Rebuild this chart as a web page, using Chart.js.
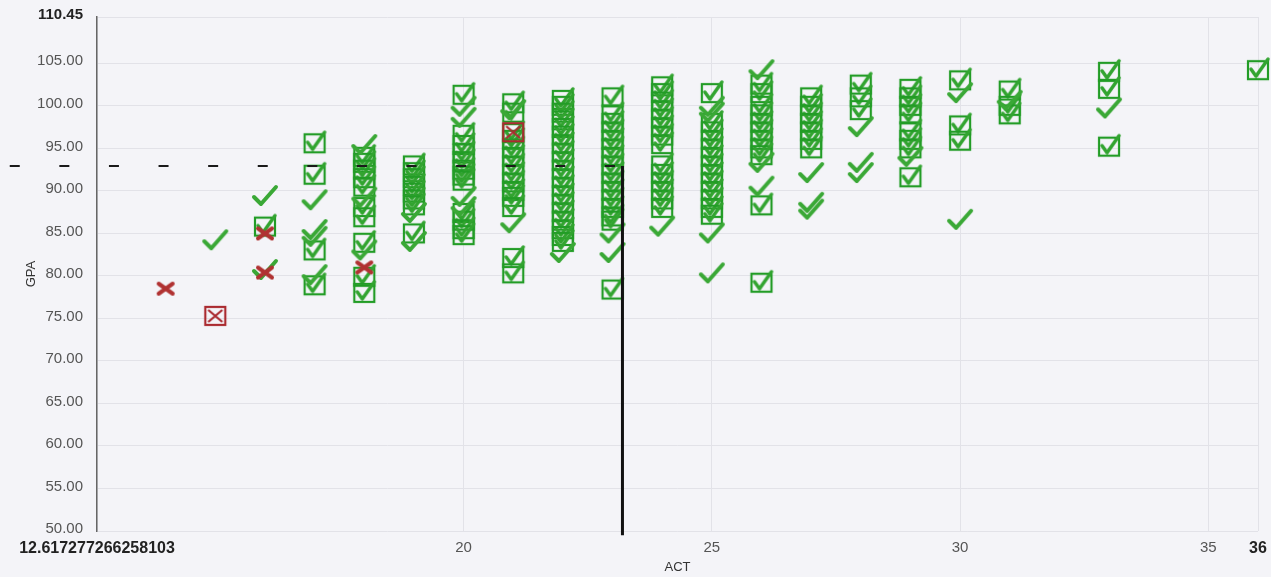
<!DOCTYPE html>
<html>
<head>
<meta charset="utf-8">
<script src="https://cdn.jsdelivr.net/npm/chart.js@4.4.0/dist/chart.umd.min.js"></script>
<style>
  html, body { margin: 0; padding: 0; background: #f4f4f8; }
  #wrap { width: 1271px; height: 577px; }
</style>
</head>
<body>
<div id="wrap"><canvas id="actChart" width="1271" height="577"></canvas></div>
<script>
// axis ticks
const xTicks = [12.617277266258103, 20, 25, 30, 35, 36];
const yTicks = [50, 55, 60, 65, 70, 75, 80, 85, 90, 95, 100, 105, 110.45];

// [ACT, GPA] per marker kind
const crossPoints = [[14, 78.5], [16, 85.0], [16, 80.4], [18, 81.0]];
const boxedCrossPoints = [[15, 75.3], [21, 96.9]];
const checkPoints = [
    [15, 84.2], [16, 89.4], [16, 80.7],
    [17, 88.9], [17, 85.4], [17, 84.6], [17, 80.1],
    [18, 95.4], [18, 89.2], [18, 83.0],
    [19, 87.4], [19, 84.0],
    [20, 99.9], [20, 98.6], [20, 89.3], [20, 88.1],
    [21, 99.5], [21, 86.2],
    [22, 82.7], [23, 85.0], [23, 82.7], [24, 85.8],
    [25, 99.9], [25, 99.2], [25, 85.0], [25, 80.3],
    [26, 104.2], [26, 93.3], [26, 90.5],
    [27, 92.1], [27, 88.6], [27, 87.8],
    [28, 97.5], [28, 93.3], [28, 92.1],
    [29, 94.0], [30, 101.5], [30, 86.6], [31, 100.6], [33, 99.7]
];
const boxPoints = [
    [16, 85.8],
    [17, 95.6], [17, 91.9], [17, 83.0], [17, 78.9],
    [18, 94.0], [18, 93.3], [18, 92.5], [18, 91.5], [18, 90.5], [18, 88.1], [18, 86.9], [18, 83.9], [18, 79.9], [18, 78.0],
    [19, 93.0], [19, 92.2], [19, 91.5], [19, 90.6], [19, 89.8], [19, 89.0], [19, 88.3], [19, 85.0],
    [20, 101.3], [20, 96.6], [20, 95.4], [20, 94.4], [20, 93.5], [20, 92.5], [20, 91.8], [20, 91.2], [20, 87.4], [20, 86.5], [20, 85.5], [20, 84.8],
    [21, 100.3], [21, 99.2], [21, 96.8], [21, 96.0], [21, 95.0], [21, 94.0], [21, 93.0], [21, 92.0], [21, 91.0], [21, 90.0], [21, 89.3], [21, 88.1], [21, 82.1], [21, 80.3],
    [22, 100.7], [22, 100.0], [22, 99.2], [22, 98.3], [22, 97.4], [22, 96.5], [22, 95.5], [22, 94.5], [22, 93.5], [22, 92.5], [22, 91.5], [22, 90.5], [22, 89.5], [22, 88.5], [22, 87.5], [22, 86.5], [22, 85.5], [22, 84.7], [22, 84.0],
    [23, 101.0], [23, 99.0], [23, 98.0], [23, 97.0], [23, 96.0], [23, 95.0], [23, 94.0], [23, 93.0], [23, 92.0], [23, 91.0], [23, 90.0], [23, 89.0], [23, 88.0], [23, 87.0], [23, 86.5], [23, 78.4],
    [24, 102.3], [24, 101.5], [24, 100.5], [24, 99.5], [24, 98.5], [24, 97.5], [24, 96.5], [24, 95.5], [24, 93.0], [24, 92.0], [24, 91.0], [24, 90.0], [24, 89.0], [24, 88.0],
    [25, 101.5], [25, 98.0], [25, 97.0], [25, 96.0], [25, 95.0], [25, 94.0], [25, 93.0], [25, 92.0], [25, 91.0], [25, 90.0], [25, 89.0], [25, 88.0], [25, 87.2],
    [26, 102.5], [26, 101.5], [26, 100.0], [26, 99.0], [26, 98.0], [26, 97.0], [26, 96.0], [26, 95.0], [26, 94.2], [26, 88.3], [26, 79.2],
    [27, 101.0], [27, 100.0], [27, 99.0], [27, 98.0], [27, 97.0], [27, 96.0], [27, 95.0],
    [28, 102.5], [28, 101.0], [28, 99.5],
    [29, 102.0], [29, 101.0], [29, 100.0], [29, 99.0], [29, 97.0], [29, 96.0], [29, 95.0], [29, 91.6],
    [30, 103.0], [30, 97.7], [30, 95.9],
    [31, 101.8], [31, 100.0], [31, 99.0],
    [33, 104.0], [33, 102.0], [33, 95.2],
    [36, 104.2]
];

// mean guide lines
const meanAct = 23.2;
const meanGpa = 92.93;
const guideStartAct = 10.86;
const guideBottomGpa = 49.5;

function makeCanvas(w, h, draw) {
    let c = document.createElement('canvas');
    c.width = w; c.height = h;
    draw(c.getContext('2d'));
    return c;
}

const checkImg = makeCanvas(28, 24, g => {
    g.strokeStyle = 'rgb(58,168,54)';
    g.lineWidth = 4;
    g.lineCap = 'round';
    g.lineJoin = 'round';
    g.beginPath();
    g.moveTo(3, 13); g.lineTo(10, 20); g.lineTo(25, 3);
    g.stroke();
});

const boxImg = makeCanvas(26, 28, g => {
    g.strokeStyle = 'rgb(34,156,38)';
    g.lineWidth = 2.2;
    g.strokeRect(3, 5, 20, 18);
    g.strokeStyle = 'rgb(50,164,48)';
    g.lineWidth = 3.5;
    g.lineCap = 'round';
    g.lineJoin = 'round';
    g.beginPath();
    g.moveTo(6, 13); g.lineTo(11, 20); g.lineTo(23, 3);
    g.stroke();
});

const crossImg = makeCanvas(20, 16, g => {
    g.strokeStyle = 'rgb(176,50,50)';
    g.lineWidth = 4;
    g.lineCap = 'round';
    g.beginPath();
    g.moveTo(3, 3); g.lineTo(17, 13);
    g.moveTo(17, 3); g.lineTo(3, 13);
    g.stroke();
});

const boxedCrossImg = makeCanvas(26, 24, g => {
    g.strokeStyle = 'rgb(170,42,48)';
    g.lineWidth = 2.2;
    g.strokeRect(3, 3, 20, 18);
    g.beginPath();
    g.moveTo(6, 6); g.lineTo(20, 18);
    g.moveTo(20, 6); g.lineTo(6, 18);
    g.stroke();
});

function toXY(list) {
    return list.map(p => ({ x: p[0], y: p[1] }));
}

const bgPlugin = {
    id: 'bg',
    beforeDraw(chart) {
        let ctx = chart.ctx;
        ctx.save();
        ctx.fillStyle = '#f4f4f8';
        ctx.fillRect(0, 0, chart.width, chart.height);
        ctx.restore();
    }
};

function isEdge(ctx) {
    let t = ctx.tick;
    return t && (t.value === xTicks[0] || t.value === 36 || t.value === 110.45);
}

window.onload = () => {
    let ctx = document.getElementById('actChart').getContext('2d');
    new Chart(ctx, {
        type: 'scatter',
        data: {
            datasets: [
                {
                    type: 'line',
                    data: [{ x: guideStartAct, y: meanGpa }, { x: meanAct, y: meanGpa }],
                    borderColor: '#1a1a1a',
                    borderWidth: 2,
                    borderDash: [10, 39.6],
                    pointRadius: 0,
                    clip: false
                },
                {
                    type: 'line',
                    data: [{ x: meanAct, y: meanGpa }, { x: meanAct, y: guideBottomGpa }],
                    borderColor: '#111',
                    borderWidth: 3,
                    pointRadius: 0,
                    clip: false
                },
                { data: toXY(boxedCrossPoints), pointStyle: boxedCrossImg, clip: false },
                { data: toXY(crossPoints), pointStyle: crossImg, clip: false },
                { data: toXY(checkPoints), pointStyle: checkImg, clip: false },
                { data: toXY(boxPoints), pointStyle: boxImg, clip: false }
            ]
        },
        options: {
            responsive: false,
            animation: false,
            layout: { padding: { left: 0, right: 13, top: 17, bottom: 0 } },
            plugins: { legend: { display: false }, tooltip: { enabled: false } },
            scales: {
                x: {
                    type: 'linear',
                    min: xTicks[0],
                    max: 36,
                    afterBuildTicks: s => { s.ticks = xTicks.map(v => ({ value: v })); },
                    afterFit: s => { s.height = 46; s.paddingLeft = 0; s.paddingRight = 0; },
                    grid: { color: '#e2e2e8', drawTicks: false },
                    border: { display: false },
                    ticks: {
                        autoSkip: false,
                        maxRotation: 0,
                        padding: 8,
                        callback: v => String(v),
                        color: c => isEdge(c) ? '#222' : '#555',
                        font: c => ({ family: 'Liberation Sans, Arial', size: isEdge(c) ? 16 : 15, weight: isEdge(c) ? 'bold' : 'normal' })
                    },
                    title: {
                        display: true,
                        text: 'ACT',
                        color: '#333',
                        font: { family: 'Liberation Sans, Arial', size: 13 },
                        padding: { top: 0, bottom: 2 }
                    }
                },
                y: {
                    min: 50,
                    max: 110.45,
                    afterBuildTicks: s => { s.ticks = yTicks.map(v => ({ value: v })); },
                    afterFit: s => { s.width = 97; s.paddingTop = 0; s.paddingBottom = 0; },
                    grid: { color: '#e2e2e8', drawTicks: false },
                    border: { display: true, color: '#666', width: 1.5 },
                    ticks: {
                        autoSkip: false,
                        padding: 14,
                        labelOffset: -2,
                        callback: v => v.toFixed(2),
                        color: c => isEdge(c) ? '#222' : '#555',
                        font: c => ({ family: 'Liberation Sans, Arial', size: 15, weight: isEdge(c) ? 'bold' : 'normal' })
                    },
                    title: {
                        display: true,
                        text: 'GPA',
                        color: '#333',
                        font: { family: 'Liberation Sans, Arial', size: 13 },
                        padding: { top: 24, bottom: 0 }
                    }
                }
            }
        },
        plugins: [bgPlugin]
    });
};
</script>
</body>
</html>
